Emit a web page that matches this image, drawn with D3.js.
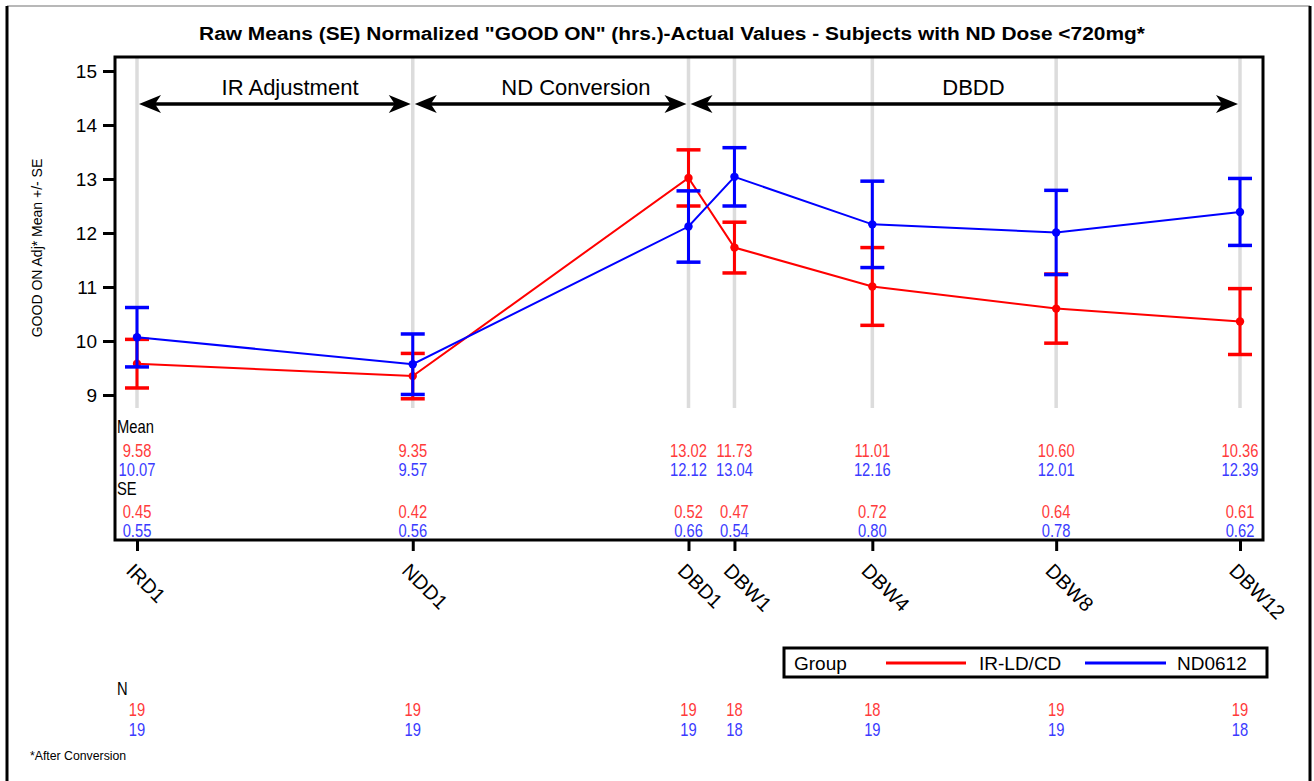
<!DOCTYPE html>
<html>
<head>
<meta charset="utf-8">
<script src="https://cdn.jsdelivr.net/npm/d3@7"></script>
<style>
  html, body { margin: 0; padding: 0; background: #fff; }
  svg { display: block; font-family: "Liberation Sans", Arial, sans-serif; }
</style>
</head>
<body>
<svg id="chart" width="1314" height="781"></svg>
<script>
// Visits, and their position on the study timeline (weeks from IR day 1)
const visits = ["IRD1", "NDD1", "DBD1", "DBW1", "DBW4", "DBW8", "DBW12"];
const visitWeeks = [0, 6, 12, 13, 16, 20, 24];

// Group means and standard errors, GOOD ON hours
const irMean = [9.58, 9.35, 13.02, 11.73, 11.01, 10.60, 10.36];
const ndMean = [10.07, 9.57, 12.12, 13.04, 12.16, 12.01, 12.39];
const irSE = [0.45, 0.42, 0.52, 0.47, 0.72, 0.64, 0.61];
const ndSE = [0.55, 0.56, 0.66, 0.54, 0.80, 0.78, 0.62];

// Subjects per visit
const irN = [19, 19, 19, 18, 18, 19, 19];
const ndN = [19, 19, 19, 18, 19, 19, 18];

// Study phases: start and end visit, and where the phase label sits (weeks)
const phases = ["IR Adjustment", "ND Conversion", "DBDD"];
const phaseStart = [0, 6, 12];
const phaseEnd = [6, 12, 24];
const phaseLabelWeek = [3.33, 9.55, 18.2];

const yTicks = [9, 10, 11, 12, 13, 14, 15];
const groupNames = ["IR-LD/CD", "ND0612"];

const RED = "#ff0000", BLUE = "#0000ff";
const RED_TXT = "#ff3b3b", BLUE_TXT = "#3b3bff";

const svg = d3.select("#chart");

// plot frame
const frame = { left: 115, right: 1263, top: 57, bottom: 540 };

const x = d3.scaleLinear().domain([0, 24]).range([137, 1240]);
const y = d3.scaleLinear().domain([9, 15]).range([395, 71]);

// page border
svg.append("line").attr("x1", 7).attr("x2", 1310).attr("y1", 6).attr("y2", 6)
  .attr("stroke", "#a0a0a0").attr("stroke-width", 1.5);
svg.append("line").attr("x1", 7).attr("x2", 7).attr("y1", 6).attr("y2", 781)
  .attr("stroke", "#000").attr("stroke-width", 3);
svg.append("line").attr("x1", 1310).attr("x2", 1310).attr("y1", 6).attr("y2", 781)
  .attr("stroke", "#000").attr("stroke-width", 3);

// title (wide face)
svg.append("text").attr("transform", "translate(672,40) scale(1.1,1)")
  .attr("text-anchor", "middle")
  .attr("font-size", 19).attr("font-weight", "bold")
  .text('Raw Means (SE) Normalized "GOOD ON" (hrs.)-Actual Values - Subjects with ND Dose <720mg*');

// narrow text helper (condensed face)
function narrow(parent, tx, ty, txt, size, fill, anchor, sx) {
  return parent.append("text")
    .attr("transform", `translate(${tx},${ty}) scale(${sx || 0.82},1)`)
    .attr("text-anchor", anchor || "middle")
    .attr("font-size", size)
    .attr("fill", fill || "#000")
    .text(txt);
}

// vertical reference lines at each visit
svg.append("g").selectAll("line").data(visitWeeks).join("line")
  .attr("x1", d => x(d)).attr("x2", d => x(d))
  .attr("y1", frame.top).attr("y2", 408)
  .attr("stroke", "#dcdcdc").attr("stroke-width", 3.5);

// phase arrows
const arrowY = 104;
const head = "M0,0 L22,-9 L16,0 L22,9 Z";
const ph = svg.append("g");
phases.forEach((p, i) => {
  const x0 = x(phaseStart[i]), x1 = x(phaseEnd[i]);
  ph.append("line").attr("x1", x0 + 12).attr("x2", x1 - 12)
    .attr("y1", arrowY).attr("y2", arrowY)
    .attr("stroke", "#000").attr("stroke-width", 3.5);
  ph.append("path").attr("d", head).attr("transform", `translate(${x0 + 2},${arrowY})`);
  ph.append("path").attr("d", head).attr("transform", `translate(${x1 - 2},${arrowY}) rotate(180)`);
  ph.append("text").attr("x", x(phaseLabelWeek[i])).attr("y", 95)
    .attr("text-anchor", "middle").attr("font-size", 22).text(p);
});

// y axis
const yAxis = d3.axisLeft(y).tickValues(yTicks).tickSize(12).tickPadding(6).tickFormat(d3.format("d"));
const yg = svg.append("g").attr("transform", `translate(${frame.left},0)`).call(yAxis);
yg.select(".domain").remove();
yg.selectAll(".tick line").attr("stroke-width", 3);
yg.selectAll(".tick text").attr("font-size", 19).attr("font-family", "Liberation Sans, Arial, sans-serif").attr("dy", "0.36em");

svg.append("text")
  .attr("transform", "translate(42,248) rotate(-90)")
  .attr("text-anchor", "middle").attr("font-size", 14)
  .text("GOOD ON Adj* Mean +/- SE");

// x axis
const xAxis = d3.axisBottom(x).tickValues(visitWeeks).tickSize(11).tickFormat("");
const xg = svg.append("g").attr("transform", `translate(0,${frame.bottom})`).call(xAxis);
xg.select(".domain").remove();
xg.selectAll(".tick line").attr("stroke-width", 3);

svg.append("g").selectAll("text").data(visits).join("text")
  .attr("transform", (d, i) => `translate(${x(visitWeeks[i]) - 12},${572}) rotate(45)`)
  .attr("font-size", 20).attr("text-anchor", "start").text(d => d);

// series: lines, error bars, markers
function drawSeries(means, ses, color) {
  const g = svg.append("g");
  const pts = visitWeeks.map((w, i) => ({ w, m: means[i], s: ses[i] }));
  g.append("path").datum(pts)
    .attr("d", d3.line().x(d => x(d.w)).y(d => y(d.m)))
    .attr("fill", "none").attr("stroke", color).attr("stroke-width", 2);
  const eb = g.selectAll("g.eb").data(pts).join("g");
  eb.append("line").attr("x1", d => x(d.w)).attr("x2", d => x(d.w))
    .attr("y1", d => y(d.m - d.s)).attr("y2", d => y(d.m + d.s))
    .attr("stroke", color).attr("stroke-width", 3);
  [-1, 1].forEach(sgn => {
    eb.append("line").attr("x1", d => x(d.w) - 12).attr("x2", d => x(d.w) + 12)
      .attr("y1", d => y(d.m + sgn * d.s)).attr("y2", d => y(d.m + sgn * d.s))
      .attr("stroke", color).attr("stroke-width", 3.5);
  });
  g.selectAll("circle").data(pts).join("circle")
    .attr("cx", d => x(d.w)).attr("cy", d => y(d.m)).attr("r", 4.2).attr("fill", color);
}
drawSeries(irMean, irSE, RED);
drawSeries(ndMean, ndSE, BLUE);

// statistics table inside the frame
const tb = svg.append("g");
narrow(tb, 117, 433, "Mean", 18, "#000", "start");
narrow(tb, 117, 495, "SE", 18, "#000", "start");
const fmt2 = d3.format(".2f");
visitWeeks.forEach((w, i) => {
  narrow(tb, x(w), 457, fmt2(irMean[i]), 18, RED_TXT);
  narrow(tb, x(w), 476, fmt2(ndMean[i]), 18, BLUE_TXT);
  narrow(tb, x(w), 518, fmt2(irSE[i]), 18, RED_TXT);
  narrow(tb, x(w), 537, fmt2(ndSE[i]), 18, BLUE_TXT);
});

// frame (drawn over the reference lines)
svg.append("rect").attr("x", frame.left).attr("y", frame.top)
  .attr("width", frame.right - frame.left).attr("height", frame.bottom - frame.top)
  .attr("fill", "none").attr("stroke", "#000").attr("stroke-width", 3);

// legend
const lg = svg.append("g");
lg.append("rect").attr("x", 784).attr("y", 648).attr("width", 483).attr("height", 29)
  .attr("fill", "#fff").attr("stroke", "#000").attr("stroke-width", 3);
lg.append("text").attr("x", 794).attr("y", 670).attr("font-size", 19).text("Group");
lg.append("line").attr("x1", 886).attr("x2", 966).attr("y1", 663).attr("y2", 663)
  .attr("stroke", RED).attr("stroke-width", 3);
lg.append("text").attr("x", 979).attr("y", 670).attr("font-size", 19).text(groupNames[0]);
lg.append("line").attr("x1", 1085).attr("x2", 1166).attr("y1", 663).attr("y2", 663)
  .attr("stroke", BLUE).attr("stroke-width", 3);
lg.append("text").attr("x", 1177).attr("y", 670).attr("font-size", 19).text(groupNames[1]);

// N table
const nt = svg.append("g");
narrow(nt, 117, 695, "N", 18, "#000", "start");
visitWeeks.forEach((w, i) => {
  narrow(nt, x(w), 716, irN[i], 18, RED_TXT);
  narrow(nt, x(w), 736, ndN[i], 18, BLUE_TXT);
});

// footnote
narrow(svg, 30, 760, "*After Conversion", 13.5, "#000", "start", 0.91);
</script>
</body>
</html>
